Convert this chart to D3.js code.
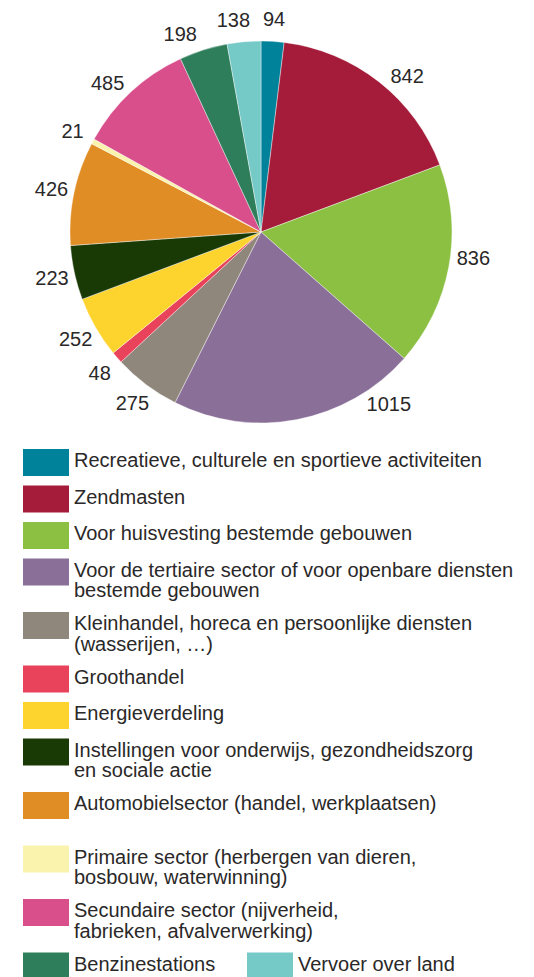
<!DOCTYPE html>
<html>
<head>
<meta charset="utf-8">
<script src="https://cdn.jsdelivr.net/npm/d3@7"></script>
<style>
  body { margin: 0; background: #fff; }
  text { font-family: "Liberation Sans", Arial, sans-serif; fill: #2a2828; }
</style>
</head>
<body>
<div id="chart"></div>
<script>
// Data, clockwise from 12 o'clock
const categories = [
  "Recreatieve, culturele en sportieve activiteiten",
  "Zendmasten",
  "Voor huisvesting bestemde gebouwen",
  "Voor de tertiaire sector of voor openbare diensten|bestemde gebouwen",
  "Kleinhandel, horeca en persoonlijke diensten|(wasserijen, …)",
  "Groothandel",
  "Energieverdeling",
  "Instellingen voor onderwijs, gezondheidszorg|en sociale actie",
  "Automobielsector (handel, werkplaatsen)|",
  "Primaire sector (herbergen van dieren,|bosbouw, waterwinning)",
  "Secundaire sector (nijverheid,|fabrieken, afvalverwerking)",
  "Benzinestations",
  "Vervoer over land"
];
const values = [94, 842, 836, 1015, 275, 48, 252, 223, 426, 21, 485, 198, 138];
const colors = [
  "#00829b", "#a51c3a", "#8bc043", "#8a6f98", "#8f877c", "#e8435a", "#fdd32e",
  "#1a3a05", "#e18d26", "#faf3ad", "#d84f8c", "#2e7e5c", "#75c9c7"
];

// small angular nudges for a few value labels (radians)
const labelShift = [0, 0.085, -0.06, -0.45, 0, 0, 0, 0, 0, 0, -0.05, -0.08, -0.04];

const W = 534, H = 977;
const cx = 261, cy = 232, r = 191, labelR = 214;

const svg = d3.select("#chart")
  .append("svg")
  .attr("width", W)
  .attr("height", H);

const pie = d3.pie().sort(null).value((d) => d);
const arcs = pie(values);
const arc = d3.arc().innerRadius(0).outerRadius(r);

const g = svg.append("g").attr("transform", `translate(${cx},${cy})`);

g.selectAll("path")
  .data(arcs)
  .enter()
  .append("path")
  .attr("d", arc)
  .attr("fill", (d, i) => colors[i])
  .attr("stroke", "#fff")
  .attr("stroke-width", 0.4);

// value labels
g.selectAll(".val")
  .data(arcs)
  .enter()
  .append("text")
  .attr("class", "val")
  .attr("x", (d, i) => labelR * Math.sin((d.startAngle + d.endAngle) / 2 + labelShift[i]))
  .attr("y", (d, i) => -labelR * Math.cos((d.startAngle + d.endAngle) / 2 + labelShift[i]))
  .attr("dy", "0.36em")
  .style("text-anchor", "middle")
  .style("font-size", "20px")
  .text((d) => d.data);

// legend
const legend = svg.append("g");
const sw = 46, sh = 27, single = 36.5, extra = 17, lineH = 20.5;
let y = 449;
categories.forEach((c, i) => {
  const lines = c.split("|");
  let x = 23;
  let yy = y;
  if (i === categories.length - 1) {
    // last two share one row
    x = 247;
    yy = y - single;
  }
  legend.append("rect")
    .attr("x", x).attr("y", yy)
    .attr("width", sw).attr("height", sh)
    .attr("fill", colors[i]);
  const t = legend.append("text")
    .attr("x", x + 51)
    .attr("y", yy + 18)
    .style("font-size", "20px");
  lines.forEach((ln, j) => {
    t.append("tspan")
      .attr("x", x + 51)
      .attr("dy", j === 0 ? 0 : lineH)
      .text(ln);
  });
  y += single + (lines.length - 1) * extra;
});
</script>
</body>
</html>
